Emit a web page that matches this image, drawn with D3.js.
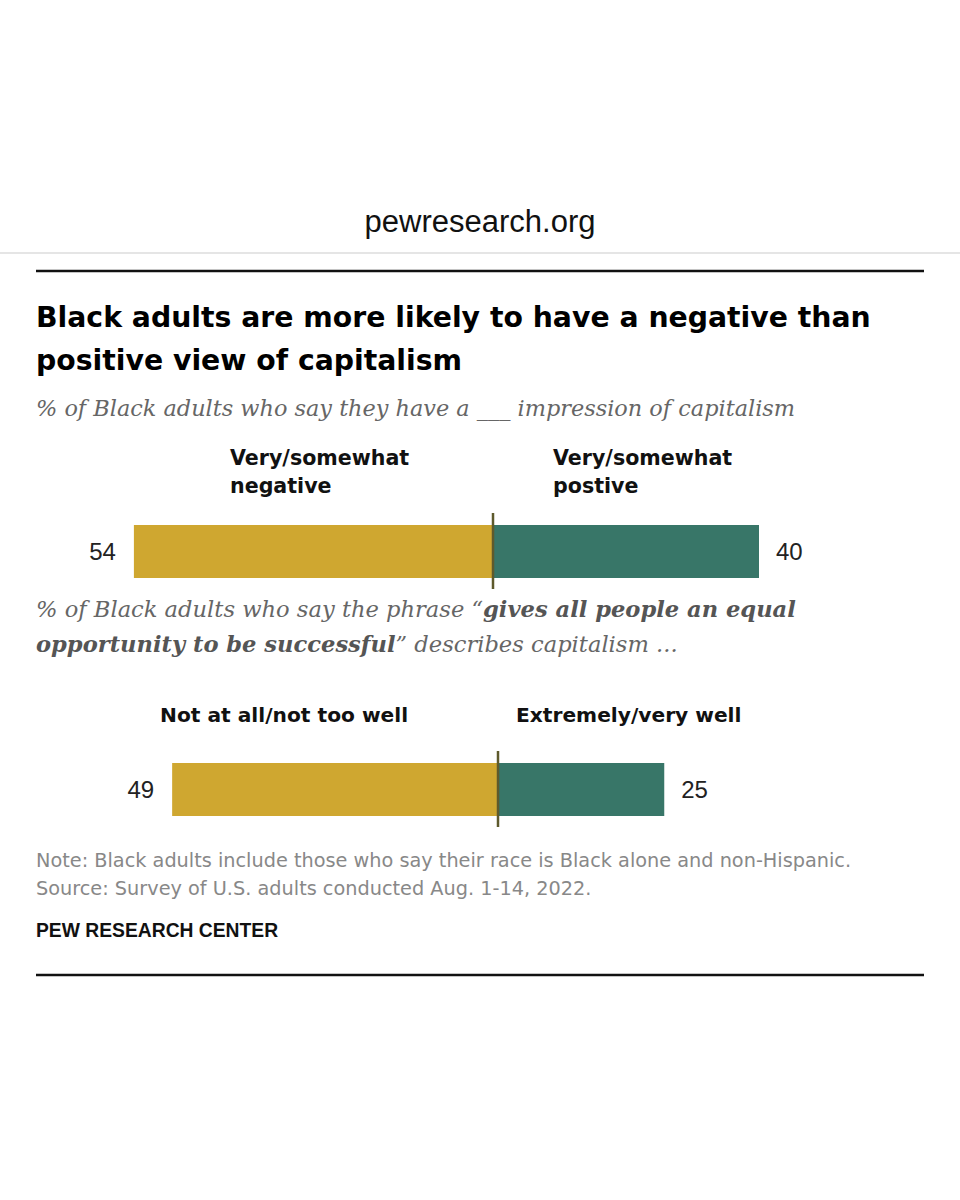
<!DOCTYPE html>
<html>
<head>
<meta charset="utf-8">
<script src="https://cdn.jsdelivr.net/npm/d3@7"></script>
<style>
  body { margin: 0; background: #fff; }
  svg { display: block; }
</style>
</head>
<body>
<div class="chart"></div>
<script>
var w = 960;
var h = 1200;

// data
var negLabels = [["Very/somewhat", "negative"], ["Not at all/not too well"]];
var posLabels = [["Very/somewhat", "postive"], ["Extremely/very well"]];
var negValues = [54, 49];
var posValues = [40, 25];

var gold = "#cfa730";
var teal = "#387668";

var svg = d3.select(".chart")
            .append("svg")
            .attr("width", w)
            .attr("height", h);

var sans = "'Liberation Sans', Arial, sans-serif";
var heavy = "'DejaVu Sans', sans-serif";
var serif = "Georgia, 'DejaVu Serif', serif";

// site header
svg.append("text")
   .attr("x", 480).attr("y", 232)
   .attr("text-anchor", "middle")
   .style("font-family", sans)
   .style("font-size", "31px")
   .style("fill", "#111")
   .text("pewresearch.org");

svg.append("line")
   .attr("x1", 0).attr("x2", w).attr("y1", 253).attr("y2", 253)
   .style("stroke", "#ddd").style("stroke-width", 1.5);

svg.append("line")
   .attr("x1", 36).attr("x2", 924).attr("y1", 271).attr("y2", 271)
   .style("stroke", "#111").style("stroke-width", 2.5);

// title
var title = ["Black adults are more likely to have a negative than", "positive view of capitalism"];
svg.selectAll(".title")
   .data(title)
   .enter()
   .append("text")
   .attr("class", "title")
   .attr("x", 36)
   .attr("y", function(d, i) { return 327 + i * 43; })
   .style("font-family", heavy)
   .style("font-weight", "bold")
   .style("font-size", "28.3px")
   .style("fill", "#000")
   .text(function(d) { return d; });

// subtitle 1
svg.append("text")
   .attr("x", 36).attr("y", 416)
   .style("font-family", serif)
   .style("font-style", "italic")
   .style("font-size", "22.4px")
   .style("fill", "#666")
   .text("% of Black adults who say they have a ___ impression of capitalism");

// subtitle 2
var sub2 = svg.append("text")
   .style("font-family", serif)
   .style("font-style", "italic")
   .style("font-size", "22.6px")
   .style("fill", "#666");
var l1 = sub2.append("tspan").attr("x", 36).attr("y", 617);
l1.append("tspan").text("% of Black adults who say the phrase \u201c");
l1.append("tspan").style("font-weight", "bold").style("fill", "#555").text("gives all people an equal");
var l2 = sub2.append("tspan").attr("x", 36).attr("y", 652);
l2.append("tspan").style("font-weight", "bold").style("fill", "#555").text("opportunity to be successful");
l2.append("tspan").text("\u201d describes capitalism ...");

// bars
var x = d3.scaleLinear().domain([0, 100]).range([0, 665]);

var panels = [
  {center: 493, barTop: 525, labelY: 465, negLabelX: 230, posLabelX: 553},
  {center: 498, barTop: 763, labelY: 722, negLabelX: 160, posLabelX: 516}
];
var barH = 53;

panels.forEach(function(p, i) {
  var g = svg.append("g");

  g.append("rect")
   .attr("x", p.center - x(negValues[i]))
   .attr("y", p.barTop)
   .attr("width", x(negValues[i]))
   .attr("height", barH)
   .style("fill", gold);

  g.append("rect")
   .attr("x", p.center)
   .attr("y", p.barTop)
   .attr("width", x(posValues[i]))
   .attr("height", barH)
   .style("fill", teal);

  g.append("line")
   .attr("x1", p.center).attr("x2", p.center)
   .attr("y1", p.barTop - 12).attr("y2", p.barTop + barH + 11)
   .style("stroke", "#5e5a2c").style("stroke-width", 2.5);

  g.append("text")
   .attr("x", p.center - x(negValues[i]) - 18)
   .attr("y", p.barTop + barH / 2 + 8)
   .attr("text-anchor", "end")
   .style("font-family", sans)
   .style("font-size", "24px")
   .style("fill", "#222")
   .text(negValues[i]);

  g.append("text")
   .attr("x", p.center + x(posValues[i]) + 17)
   .attr("y", p.barTop + barH / 2 + 8)
   .style("font-family", sans)
   .style("font-size", "24px")
   .style("fill", "#222")
   .text(posValues[i]);

  [[negLabels[i], p.negLabelX], [posLabels[i], p.posLabelX]].forEach(function(l) {
    g.selectAll(null)
     .data(l[0])
     .enter()
     .append("text")
     .attr("x", l[1])
     .attr("y", function(d, j) { return p.labelY + j * 28; })
     .style("font-family", heavy)
     .style("font-weight", "bold")
     .style("font-size", i == 0 ? "20.6px" : "20.2px")
     .style("fill", "#111")
     .text(function(d) { return d; });
  });
});

// notes
var notes = ["Note: Black adults include those who say their race is Black alone and non-Hispanic.",
             "Source: Survey of U.S. adults conducted Aug. 1-14, 2022."];
svg.selectAll(".note")
   .data(notes)
   .enter()
   .append("text")
   .attr("class", "note")
   .attr("x", 36)
   .attr("y", function(d, i) { return 867 + i * 28; })
   .style("font-family", heavy)
   .style("font-size", "19.3px")
   .style("fill", "#888")
   .text(function(d) { return d; });

svg.append("text")
   .attr("x", 36).attr("y", 937)
   .style("font-family", sans)
   .style("font-weight", "bold")
   .style("font-size", "19.3px")
   .style("fill", "#111")
   .text("PEW RESEARCH CENTER");

svg.append("line")
   .attr("x1", 36).attr("x2", 924).attr("y1", 975).attr("y2", 975)
   .style("stroke", "#111").style("stroke-width", 2.5);
</script>
</body>
</html>
